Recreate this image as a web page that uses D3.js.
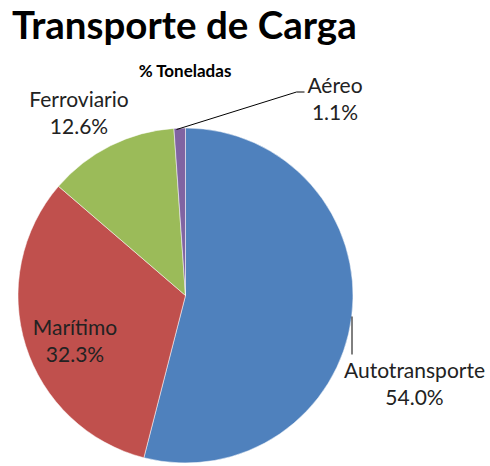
<!DOCTYPE html>
<html>
<head>
<meta charset="utf-8">
<script src="https://cdn.jsdelivr.net/npm/d3@7"></script>
<style>
  body { margin: 0; background: #fff; }
  svg { display: block; font-family: Lato, "Open Sans", sans-serif; }
</style>
</head>
<body>
<div class="svgContainer"></div>
<script>
// Data
var MODES = ["Autotransporte", "Marítimo", "Ferroviario", "Aéreo"];
var SHARES = [54.0, 32.3, 12.6, 1.1];
var COLORS = ["#4F81BD", "#C0504D", "#9BBB59", "#8064A2"];

var TITLE = "Transporte de Carga";
var SUBTITLE = "% Toneladas";

// Layout
var width = 490,
    height = 466,
    cx = 185.5,
    cy = 295.5,
    radius = 167.5;

var svg = d3.select(".svgContainer").append("svg")
    .attr("width", width)
    .attr("height", height);

svg.append("text")
    .attr("x", 12)
    .attr("y", 39)
    .attr("font-size", 38.5)
    .attr("font-weight", "bold")
    .attr("fill", "#000")
    .text(TITLE);

svg.append("text")
    .attr("x", 185)
    .attr("y", 77)
    .attr("text-anchor", "middle")
    .attr("font-size", 17)
    .attr("font-weight", "bold")
    .attr("fill", "#000")
    .text(SUBTITLE);

var data = MODES.map(function(m, i) {
    return {name: m, value: SHARES[i], color: COLORS[i]};
});

// Excel style: start at 12 o'clock, clockwise, keep order
var pie = d3.pie()
    .sort(null)
    .value(function(d) { return d.value; });

var arc = d3.arc()
    .innerRadius(0)
    .outerRadius(radius);

var arcs = pie(data);

var g = svg.append("g")
    .attr("transform", "translate(" + cx + "," + cy + ")");

g.selectAll("path")
    .data(arcs)
    .enter().append("path")
    .attr("d", arc)
    .attr("fill", function(d) { return d.data.color; })
    .attr("stroke", "#fff")
    .attr("stroke-width", 0.5);

// label placement: position relative to the pie centre, per slice
var labelPos = {
    "Autotransporte": {x: 229, y: 82.5, leader: [[166.5, 21], [166.5, 59]]},
    "Marítimo": {x: -110.5, y: 39.5, leader: null},
    "Ferroviario": {x: -106.5, y: -188.5, leader: null},
    "Aéreo": {x: 149.5, y: -202.5, leader: [[-9, -166], [111, -203.5], [119, -203.5]]}
};

var labels = g.selectAll("g.label")
    .data(arcs)
    .enter().append("g")
    .attr("class", "label");

labels.each(function(d) {
    var p = labelPos[d.data.name];
    var sel = d3.select(this);
    if (p.leader) {
        sel.append("path")
            .attr("d", d3.line()(p.leader))
            .attr("fill", "none")
            .attr("stroke", "#000")
            .attr("stroke-width", 1);
    }
    var t = sel.append("text")
        .attr("text-anchor", "middle")
        .attr("font-size", 21)
        .attr("fill", "#222");
    t.append("tspan")
        .attr("x", p.x)
        .attr("y", p.y)
        .text(d.data.name);
    t.append("tspan")
        .attr("x", p.x)
        .attr("y", p.y + 27)
        .text(d3.format(".1f")(d.data.value) + "%");
});
</script>
</body>
</html>
